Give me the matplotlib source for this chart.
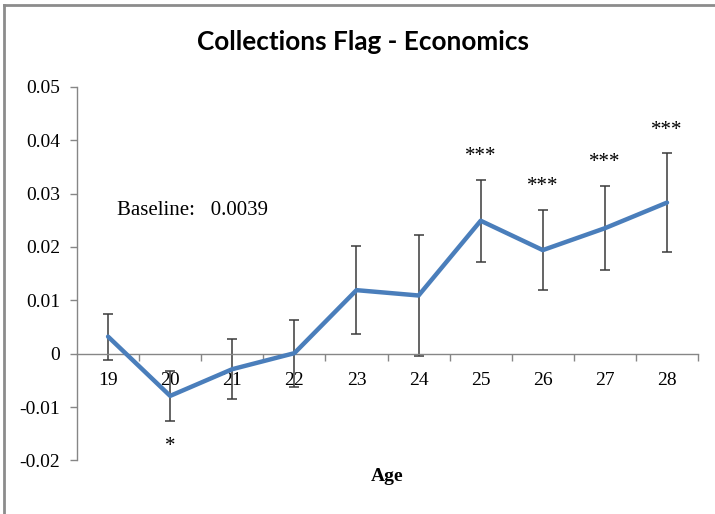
import numpy as np
import matplotlib
matplotlib.use('Agg')
import matplotlib.pyplot as plt
from matplotlib.lines import Line2D

# age profile of the collections flag coefficient
ages = [19, 20, 21, 22, 23, 24, 25, 26, 27, 28]
coef = [0.0032, -0.0079, -0.0029, 0.0001, 0.0119, 0.0109, 0.0249, 0.0194, 0.0235, 0.0283]
err = [0.0043, 0.0047, 0.0056, 0.0063, 0.0083, 0.0113, 0.0077, 0.0075, 0.0079, 0.0092]
stars = ['', '*', '', '', '', '', '***', '***', '***', '***']
star_below = [False, True, False, False, False, False, False, False, False, False]
baseline = 0.0039

serif = 'Liberation Serif'
blue = '#4a7ebb'
axis_grey = '#868686'

fig = plt.figure(figsize=(7.15, 5.14), dpi=100)
ax = fig.add_axes([0.1077, 0.1041, 0.8686, 0.7272])

x = np.arange(1, len(ages) + 1)
ax.errorbar(x, coef, yerr=err, fmt='none', ecolor='#3a3a3a', elinewidth=1.1,
			capsize=3.6, capthick=1.1, zorder=2)
ax.plot(x, coef, color=blue, lw=3.2, solid_capstyle='round', zorder=3)

for xi, c, e, s, below in zip(x, coef, err, stars, star_below):
	if not s:
		continue
	if below:
		ax.text(xi, c - e - 0.0057, s, ha='center', va='baseline', fontsize=15, family=serif)
	else:
		ax.text(xi, c + e + 0.0035, s, ha='center', va='baseline', fontsize=15, family=serif)

ax.text(1.14, 0.026, 'Baseline:   %.4f' % baseline, ha='left', va='baseline',
		fontsize=15, family=serif)

ax.set_xlim(0.5, len(ages) + 0.5)
ax.set_ylim(-0.02, 0.05)
ax.set_yticks(np.arange(-0.02, 0.051, 0.01))
ax.set_yticklabels(['-0.02', '-0.01', '0', '0.01', '0.02', '0.03', '0.04', '0.05'])
ax.set_xticks(x)
ax.set_xticklabels([str(a) for a in ages])
ax.set_xticks(np.arange(1.5, len(ages) + 0.6, 1), minor=True)

ax.spines['top'].set_visible(False)
ax.spines['right'].set_visible(False)
ax.spines['bottom'].set_position(('data', 0))
for sp in ['left', 'bottom']:
	ax.spines[sp].set_color(axis_grey)
	ax.spines[sp].set_linewidth(1)

ax.tick_params(axis='x', which='major', length=0, pad=13, labelsize=14)
ax.tick_params(axis='x', which='minor', direction='out', length=5, color=axis_grey, width=1)
ax.tick_params(axis='y', direction='out', length=5, color=axis_grey, width=1, pad=7, labelsize=14)
for lab in ax.get_xticklabels() + ax.get_yticklabels():
	lab.set_family(serif)

fig.text(0.5417, 0.0720, 'Age', ha='center', va='center', fontsize=14,
		 fontweight='bold', family=serif)
fig.text(0.507, 0.918, 'Collections Flag - Economics', ha='center', va='center',
		 fontsize=18.8, fontweight='bold', family='Lato')

# chart frame (left and top edges)
fig.add_artist(Line2D([4 / 715, 4 / 715], [0, 1 - 5 / 514], color='#8c8c8c', lw=2))
fig.add_artist(Line2D([4 / 715, 1], [1 - 5 / 514, 1 - 5 / 514], color='#8c8c8c', lw=2))

fig.savefig('out.png', dpi=100)
